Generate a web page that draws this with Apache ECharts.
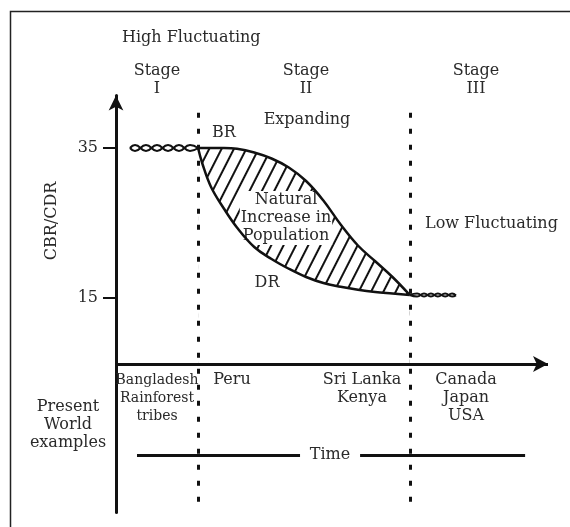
<!DOCTYPE html>
<html><head><meta charset="utf-8">
<script src="https://cdn.jsdelivr.net/npm/echarts@6/dist/echarts.min.js"></script>
<style>html,body{margin:0;padding:0;background:#fff}#c{width:570px;height:527px}</style>
</head><body><div id="c"></div>
<script>
// ---- data ----
const curveX = [19, 20, 22, 25, 28, 32, 36, 40, 44, 48, 52, 56, 60, 64, 68];
const brY    = [35, 35, 35, 35, 34.9, 34.4, 33.6, 32.4, 30.6, 28.0, 24.8, 22.0, 19.9, 17.8, 15.4];
const drY    = [35, 32.9, 29.8, 26.9, 24.4, 21.8, 20.2, 18.9, 17.8, 17.0, 16.5, 16.1, 15.8, 15.6, 15.4];
const wave1X = [3.24, 4.4, 6.94, 9.49, 12.04, 14.58, 17.13, 19];
const wave1A = [35, 35.4, 34.6, 35.4, 34.6, 35.4, 34.6, 35];
const wave1B = [35, 34.6, 35.4, 34.6, 35.4, 34.6, 35.4, 35];
const wave3X = [68, 69.7, 71.3, 72.9, 74.5, 76.2, 77.8, 78.7];
const wave3A = [15.4, 15.6, 15.2, 15.6, 15.2, 15.6, 15.2, 15.35];
const wave3B = [15.4, 15.2, 15.6, 15.2, 15.6, 15.2, 15.6, 15.35];
const yTicks = [15, 35];
const stageBounds = [19, 68];
const timeAxisY = 6.2;       // level of the time axis
const timeLineY = -5.93;     // level of the "Time" rule
const timeSegs = [[4.86, 42.6], [56.5, 94.7]];
const dotRange = [39.7, -12.6];

const zip = (xs, ys) => xs.map((x, i) => [x, ys[i]]);
const FONT = '"DejaVu Serif", serif';
const TXT = '#2a2a2a';
const INK = '#111';
const FS = 16;

const chart = echarts.init(document.getElementById('c'), null, {renderer: 'canvas'});

const lineBase = {type: 'line', showSymbol: false, symbol: 'none', silent: true, animation: false};

function txt(text, x, y, align, extraStyle, extra) {
  return Object.assign({
    type: 'text', z: 100, x, y,
    style: Object.assign({text, x: 0, y: 0, align: align || 'center', verticalAlign: 'middle',
      font: FS + 'px ' + FONT, fill: TXT, lineHeight: 18}, extraStyle || {})
  }, extra || {});
}

const option = {
  animation: false,
  backgroundColor: '#fff',
  grid: {left: 116, right: 22, top: 95.5, bottom: 14.5, outerBoundsMode: 'none', containLabel: false},
  xAxis: {type: 'value', min: 0, max: 100, show: false},
  yAxis: {
    type: 'value', min: -13.6, max: 42,
    splitLine: {show: false},
    axisLine: {show: true, symbol: ['none', 'arrow'], symbolSize: [11, 15], lineStyle: {color: INK, width: 3}},
    axisTick: {show: true, customValues: yTicks, length: 13, inside: false, lineStyle: {color: INK, width: 2}},
    axisLabel: {show: true, customValues: yTicks, margin: 18, fontFamily: FONT, fontSize: FS, color: TXT}
  },
  series: [
    // hatched band between BR and DR (area fill only)
    Object.assign({}, lineBase, {
      name: 'BR area', z: 1, data: zip(curveX, brY), smooth: 0.4,
      lineStyle: {width: 0, opacity: 0},
      itemStyle: {color: INK, decal: {symbol: 'rect', symbolSize: 1, color: INK, backgroundColor: 'rgba(0,0,0,0)',
        dashArrayX: [1, 0], dashArrayY: [2, 8.5], rotation: -1.1}},
      areaStyle: {color: '#fff', opacity: 1, origin: timeAxisY}
    }),
    Object.assign({}, lineBase, {
      name: 'DR area', z: 2, data: zip(curveX, drY), smooth: 0.4,
      lineStyle: {width: 0, opacity: 0},
      itemStyle: {color: '#fff'},
      areaStyle: {color: '#fff', opacity: 1, origin: timeAxisY}
    }),
    Object.assign({}, lineBase, {name: 'BR', z: 5, data: zip(curveX, brY), smooth: 0.4, lineStyle: {color: INK, width: 2.5}}),
    Object.assign({}, lineBase, {name: 'DR', z: 5, data: zip(curveX, drY), smooth: 0.4, lineStyle: {color: INK, width: 2.5}}),
    Object.assign({}, lineBase, {name: 'w1a', z: 5, data: zip(wave1X, wave1A), smooth: true, lineStyle: {color: INK, width: 2}}),
    Object.assign({}, lineBase, {name: 'w1b', z: 5, data: zip(wave1X, wave1B), smooth: true, lineStyle: {color: INK, width: 2}}),
    Object.assign({}, lineBase, {name: 'w3a', z: 5, data: zip(wave3X, wave3A), smooth: true, lineStyle: {color: INK, width: 2}}),
    Object.assign({}, lineBase, {name: 'w3b', z: 5, data: zip(wave3X, wave3B), smooth: true, lineStyle: {color: INK, width: 2}}),
    Object.assign({}, lineBase, {
      name: 'axes', z: 10, data: [],
      markLine: {
        silent: true, animation: false, label: {show: false},
        data: [
          [{coord: [0, timeAxisY], symbol: 'none'}, {coord: [100, timeAxisY], symbol: 'arrow', symbolSize: [12, 15],
            lineStyle: {color: INK, width: 3, type: 'solid'}}],
          [{coord: [stageBounds[0], dotRange[0]], symbol: 'none'}, {coord: [stageBounds[0], dotRange[1]], symbol: 'none',
            lineStyle: {color: INK, width: 3, type: [5, 11]}}],
          [{coord: [stageBounds[1], dotRange[0]], symbol: 'none'}, {coord: [stageBounds[1], dotRange[1]], symbol: 'none',
            lineStyle: {color: INK, width: 3, type: [5, 11]}}],
          [{coord: [timeSegs[0][0], timeLineY], symbol: 'none'}, {coord: [timeSegs[0][1], timeLineY], symbol: 'none',
            lineStyle: {color: INK, width: 3, type: 'solid'}}],
          [{coord: [timeSegs[1][0], timeLineY], symbol: 'none'}, {coord: [timeSegs[1][1], timeLineY], symbol: 'none',
            lineStyle: {color: INK, width: 3, type: 'solid'}}]
        ]
      }
    })
  ],
  graphic: [
    {type: 'polyline', z: 100, shape: {points: [[10.5, 527], [10.5, 11.5], [570, 11.5]]},
      style: {stroke: '#222', lineWidth: 1.5, fill: null}},
    txt('High Fluctuating', 122, 38, 'left'),
    txt('Stage\nI', 157, 80),
    txt('Stage\nII', 306, 80),
    txt('Stage\nIII', 476, 80),
    txt('Expanding', 307, 120),
    txt('BR', 224, 133),
    txt('Natural\nIncrease in\nPopulation', 286, 218, 'center', {backgroundColor: '#fff', padding: [0, 1]}, {z: 3}),
    txt('DR', 267, 283),
    txt('Low Fluctuating', 425, 224, 'left'),
    txt('CBR/CDR', 52, 221, 'center', null, {rotation: Math.PI / 2}),
    txt('Bangladesh\nRainforest\ntribes', 157, 398, 'center', {font: '14px ' + FONT}),
    txt('Peru', 232, 380),
    txt('Sri Lanka\nKenya', 362, 389),
    txt('Canada\nJapan\nUSA', 466, 398),
    txt('Present\nWorld\nexamples', 68, 425),
    txt('Time', 330, 455)
  ]
};
chart.setOption(option);
</script></body></html>
